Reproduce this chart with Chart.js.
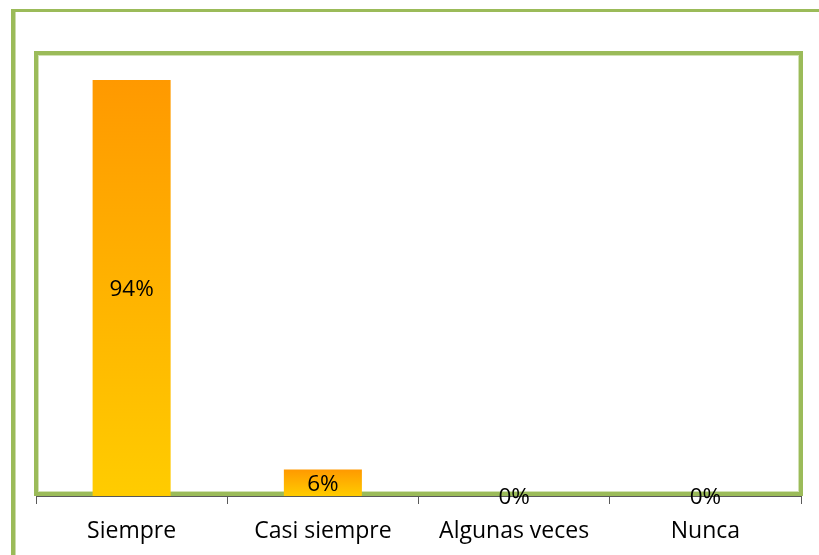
<!DOCTYPE html>
<html>
<head>
<meta charset="utf-8">
<script src="https://cdn.jsdelivr.net/npm/chart.js@4.4.1/dist/chart.umd.min.js"></script>
<style>
  html, body { margin: 0; padding: 0; background: #fff; }
  #wrap { width: 819px; height: 555px; position: relative; }
</style>
</head>
<body>
<div id="wrap"><canvas id="c" width="819" height="555"></canvas></div>
<script>
const categories = ["Siempre", "Casi siempre", "Algunas veces", "Nunca"];
const percentages = [94, 6, 0, 0];
const yRange = [0, 100];

const GREEN = '#9BBB59';
const FONT = '"Open Sans", "Liberation Sans", sans-serif';

const framePlugin = {
  id: 'frame',
  beforeDraw(chart) {
    const ctx = chart.ctx;
    ctx.save();
    ctx.fillStyle = '#fff';
    ctx.fillRect(0, 0, chart.width, chart.height);
    ctx.fillStyle = GREEN;
    ctx.fillRect(11, 9, chart.width - 11, 3);   // outer top
    ctx.fillRect(11, 9, 4.5, chart.height - 9); // outer left
    ctx.restore();
  },
  beforeDatasetsDraw(chart) {
    const ctx = chart.ctx;
    const ca = chart.chartArea;
    ctx.save();
    ctx.strokeStyle = GREEN;
    ctx.lineWidth = 4;
    const l = ca.left, t = ca.top - 0.5, r = ca.right, b = ca.bottom - 2;
    ctx.strokeRect(l, t, r - l, b - t);
    ctx.strokeStyle = '#D2E2B4';
    ctx.lineWidth = 1;
    ctx.strokeRect(l + 2.5, t + 2.5, r - l - 5, b - t - 5);
    ctx.restore();
  },
  afterDatasetsDraw(chart) {
    const ctx = chart.ctx;
    const meta = chart.getDatasetMeta(0);
    ctx.save();
    ctx.font = '22.5px ' + FONT;
    ctx.fillStyle = '#000';
    ctx.textAlign = 'center';
    ctx.textBaseline = 'middle';
    meta.data.forEach((bar, i) => {
      const v = chart.data.datasets[0].data[i];
      const cy = (bar.y + bar.base) / 2 + 1.5;
      ctx.fillText(v + '%', bar.x, cy);
    });
    ctx.restore();
  }
};

new Chart(document.getElementById('c'), {
  type: 'bar',
  data: {
    labels: categories,
    datasets: [{
      data: percentages,
      borderWidth: 0,
      categoryPercentage: 1,
      barPercentage: 0.408,
      backgroundColor(context) {
        const chart = context.chart;
        const ca = chart.chartArea;
        if (!ca || !chart.scales.y) return '#FFB300';
        const y = chart.scales.y;
        const v = context.raw || 0;
        const top = y.getPixelForValue(v);
        const bottom = y.getPixelForValue(0);
        if (!isFinite(top) || !isFinite(bottom) || bottom - top < 1) return '#FFCC00';
        const g = chart.ctx.createLinearGradient(0, top, 0, bottom);
        g.addColorStop(0, '#FF9900');
        g.addColorStop(1, '#FFCC00');
        return g;
      }
    }]
  },
  options: {
    responsive: false,
    animation: false,
    devicePixelRatio: 1,
    layout: { padding: { left: 36, right: 18, top: 53.5, bottom: 0 } },
    plugins: { legend: { display: false }, tooltip: { enabled: false } },
    scales: {
      y: { display: false, min: yRange[0], max: yRange[1] },
      x: {
        afterFit(s) { s.height = 59; },
        grid: { offset: true, drawOnChartArea: false, drawTicks: true, tickLength: 8, color: '#595959', lineWidth: 1 },
        border: { display: true, color: '#595959', width: 1 },
        ticks: { color: '#000', padding: 14, font: { family: FONT, size: 23 } }
      }
    }
  },
  plugins: [framePlugin]
});
</script>
</body>
</html>
